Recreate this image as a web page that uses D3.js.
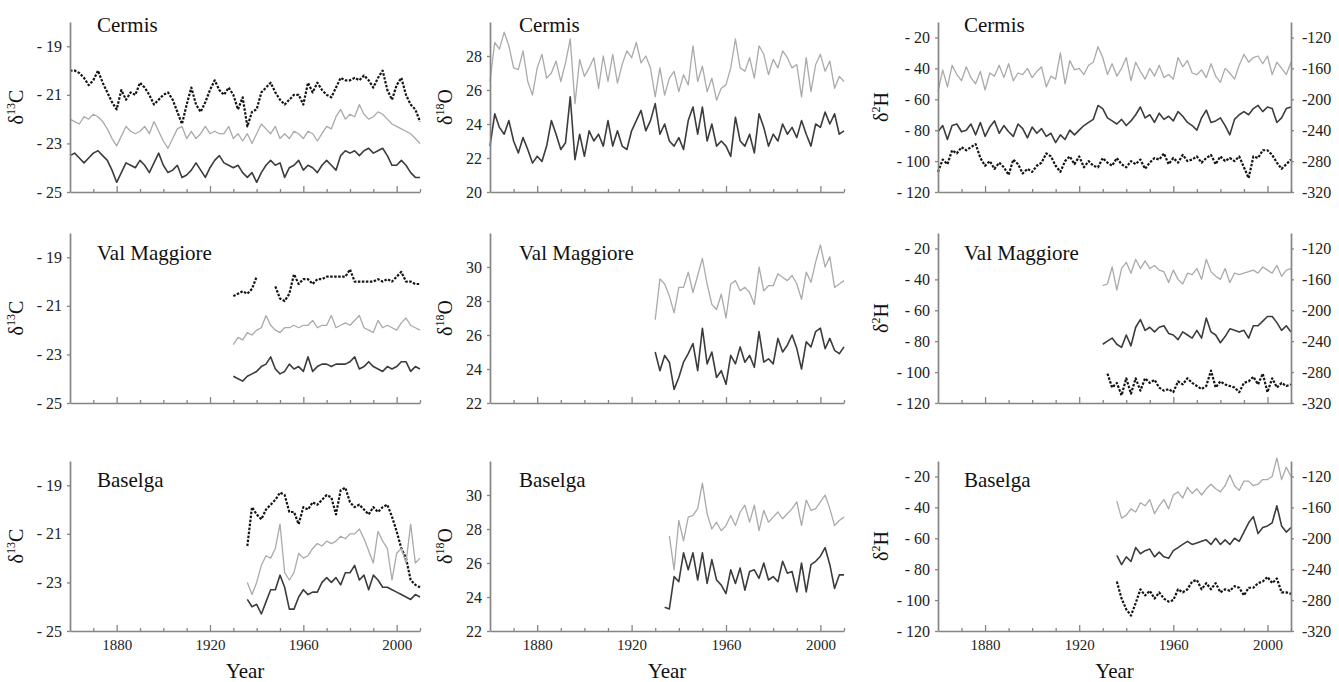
<!DOCTYPE html>
<html>
<head>
<meta charset="utf-8">
<script src="https://cdn.jsdelivr.net/npm/d3@7"></script>
<style>
  body { margin: 0; background: #fff; }
  svg { display: block; font-family: "Liberation Serif", "DejaVu Serif", serif; }
</style>
</head>
<body>
<svg id="chart" width="1339" height="682"></svg>
<script>
// every series is sampled every 2 years from its own start year
const yearStep = 2

// ---- Cermis (1860-2010) ----
const cermisC13Black = [-20.0,-20.0,-20.1,-20.3,-20.6,-20.4,-20.0,-20.5,-20.9,-21.3,
  -21.6,-20.8,-21.2,-20.9,-21.0,-20.5,-20.7,-21.0,-21.4,-21.2,
  -21.0,-20.9,-21.2,-21.7,-22.2,-21.4,-20.7,-21.4,-21.7,-21.3,
  -20.8,-20.4,-20.8,-21.0,-20.7,-21.0,-21.6,-21.1,-22.3,-21.7,
  -21.6,-20.9,-20.7,-20.5,-20.9,-21.2,-21.4,-21.2,-21.0,-21.0,
  -21.4,-20.5,-20.9,-20.5,-20.8,-21.0,-21.1,-20.7,-20.3,-20.4,
  -20.4,-20.3,-20.4,-20.2,-20.4,-20.7,-20.3,-20.0,-20.8,-21.2,
  -20.6,-20.3,-21.0,-21.4,-21.6,-22.1]
const cermisC13Gray = [-22.0,-22.1,-22.2,-21.9,-22.0,-21.8,-21.9,-22.1,-22.4,-22.8,
  -23.1,-22.7,-22.3,-22.5,-22.6,-22.5,-22.3,-22.6,-22.1,-22.5,
  -22.9,-23.2,-22.8,-22.4,-22.3,-22.8,-22.5,-22.8,-22.6,-22.3,
  -22.6,-22.5,-22.6,-22.6,-22.3,-22.8,-22.6,-22.9,-22.6,-23.0,
  -22.6,-22.2,-22.4,-22.6,-22.3,-22.8,-22.6,-22.8,-22.5,-22.6,
  -22.8,-22.5,-22.6,-22.9,-22.6,-22.3,-22.4,-21.9,-21.6,-22.0,
  -21.8,-21.9,-21.4,-21.8,-22.0,-21.9,-21.7,-21.8,-22.0,-22.2,
  -22.3,-22.4,-22.5,-22.6,-22.8,-23.0]
const cermisC13Dark = [-23.5,-23.4,-23.6,-23.8,-23.6,-23.4,-23.3,-23.5,-23.7,-24.1,
  -24.6,-24.2,-23.8,-23.9,-24.0,-23.7,-23.9,-24.2,-23.8,-23.4,
  -23.9,-24.2,-24.1,-23.9,-24.4,-24.3,-24.1,-23.8,-24.1,-24.4,
  -24.0,-23.7,-23.5,-23.8,-23.9,-24.0,-23.9,-24.2,-24.4,-24.2,
  -24.6,-24.2,-23.9,-23.7,-23.9,-23.8,-24.4,-24.0,-23.9,-23.7,
  -24.1,-23.9,-24.0,-24.2,-23.9,-23.7,-23.9,-24.1,-23.5,-23.3,
  -23.4,-23.3,-23.5,-23.3,-23.2,-23.4,-23.3,-23.2,-23.5,-23.9,
  -23.9,-23.7,-23.9,-24.2,-24.4,-24.4]

const cermisO18Gray = [26.5,28.8,28.4,29.4,28.6,27.3,27.2,28.3,26.5,25.7,
  27.3,28.1,26.7,27.0,27.7,26.5,27.6,29.0,25.2,27.8,
  26.8,27.3,27.9,26.1,28.0,26.5,28.1,26.4,27.5,28.3,
  27.9,28.8,27.6,28.0,27.3,25.6,27.3,25.7,26.7,27.1,
  25.9,26.9,26.3,28.6,26.5,27.4,25.9,26.7,25.4,26.1,
  26.3,27.3,29.0,27.3,27.1,27.9,26.7,28.6,28.1,26.9,
  27.8,27.3,28.3,27.9,27.3,27.5,25.6,27.9,25.9,27.5,
  28.1,27.1,27.7,26.1,26.8,26.5]
const cermisO18Dark = [22.7,24.6,23.8,23.4,24.2,23.0,22.3,23.2,22.5,21.7,
  22.1,21.8,22.7,24.2,23.4,22.5,22.9,25.6,21.9,23.4,
  22.1,23.6,23.0,23.4,22.7,24.2,22.7,23.6,22.7,22.5,
  23.6,24.2,24.8,23.6,24.2,25.2,23.4,24.0,23.0,22.7,
  23.2,22.5,24.2,25.0,23.4,25.0,23.0,24.0,22.7,23.0,
  22.7,22.1,24.4,23.0,22.7,23.4,22.3,24.6,23.8,22.7,
  23.4,23.0,24.0,23.4,23.8,23.2,24.2,23.4,22.7,24.0,
  23.8,24.7,24.0,24.6,23.4,23.6]

const cermisH2Gray = [-55,-41,-52,-38,-44,-48,-39,-46,-50,-42,
  -54,-43,-45,-38,-46,-37,-48,-43,-44,-40,
  -46,-42,-39,-52,-45,-47,-30,-50,-35,-41,
  -40,-44,-38,-36,-26,-33,-44,-37,-45,-40,
  -33,-48,-36,-42,-47,-40,-45,-38,-46,-44,
  -47,-33,-39,-35,-43,-44,-41,-46,-37,-45,
  -49,-40,-43,-47,-38,-31,-36,-33,-32,-37,
  -32,-44,-36,-40,-44,-36]
const cermisH2Dark = [-81,-77,-86,-77,-76,-81,-80,-76,-83,-75,
  -84,-78,-74,-82,-77,-81,-84,-76,-79,-85,
  -78,-82,-79,-84,-82,-88,-83,-86,-80,-83,
  -80,-77,-75,-73,-64,-66,-72,-74,-76,-73,
  -77,-74,-70,-65,-72,-70,-75,-69,-73,-71,
  -74,-68,-71,-75,-77,-80,-72,-67,-75,-74,
  -72,-77,-83,-73,-70,-68,-70,-66,-64,-68,
  -65,-66,-75,-72,-66,-65]
const cermisH2Black = [-107,-99,-102,-93,-95,-91,-93,-91,-89,-98,
  -103,-100,-105,-101,-104,-109,-99,-102,-108,-105,
  -107,-103,-101,-95,-97,-103,-107,-100,-97,-102,
  -97,-104,-100,-103,-104,-98,-101,-103,-98,-102,
  -104,-100,-102,-99,-105,-101,-98,-99,-95,-102,
  -98,-101,-96,-100,-99,-97,-101,-98,-96,-102,
  -97,-100,-98,-100,-97,-104,-111,-97,-98,-93,
  -93,-96,-101,-105,-102,-99]

// ---- Val Maggiore (1930-2010) ----
const valC13Black = [-20.6,-20.5,-20.4,-20.5,-20.3,-19.8,null,null,null,-20.2,
  -20.7,-20.8,-20.5,-19.7,-20.1,-19.9,-19.9,-20.1,-19.9,-19.9,
  -19.8,-19.8,-19.8,-19.8,-19.8,-19.5,-20.0,-20.0,-20.0,-20.0,
  -20.0,-19.9,-20.0,-19.9,-20.0,-19.8,-19.6,-20.0,-20.0,-20.1,
  -20.1]
const valC13Gray = [-22.6,-22.3,-22.4,-22.1,-22.2,-22.0,-21.9,-21.4,-21.8,-22.0,
  -22.1,-21.9,-21.9,-21.8,-21.9,-21.8,-21.8,-21.6,-21.9,-21.8,
  -21.8,-21.4,-21.9,-21.8,-21.7,-21.8,-21.6,-21.4,-21.9,-22.0,
  -22.1,-21.6,-21.9,-21.8,-21.9,-22.0,-21.7,-21.5,-21.8,-21.9,
  -22.0]
const valC13Dark = [-23.9,-24.0,-24.1,-23.9,-23.8,-23.7,-23.5,-23.4,-23.1,-23.6,
  -23.8,-23.7,-23.4,-23.6,-23.5,-23.7,-23.1,-23.7,-23.5,-23.4,
  -23.4,-23.5,-23.4,-23.4,-23.4,-23.3,-23.1,-23.6,-23.5,-23.3,
  -23.5,-23.6,-23.7,-23.5,-23.6,-23.5,-23.3,-23.3,-23.7,-23.5,
  -23.6]

const valO18Gray = [26.9,29.3,29.0,28.3,27.3,28.8,28.8,29.7,28.5,29.5,
  30.5,29.0,27.8,27.5,28.4,27.0,29.0,29.2,28.6,28.8,
  28.5,27.8,30.0,28.6,28.9,28.9,29.6,29.4,29.2,29.5,
  29.0,28.1,29.7,29.1,30.3,31.3,30.0,30.6,28.8,29.0,
  29.2]
const valO18Dark = [25.0,23.9,24.8,24.4,22.8,23.5,24.4,24.9,25.5,23.9,
  26.4,24.3,25.0,23.5,23.9,23.1,24.8,24.3,25.3,24.4,
  24.8,24.1,26.2,24.4,24.6,24.3,25.8,25.0,25.4,26.0,
  25.2,24.0,25.6,25.3,26.2,26.4,25.2,25.8,25.1,24.9,
  25.3]

const valH2Gray = [-44,-43,-32,-47,-33,-29,-36,-27,-33,-28,
  -33,-31,-34,-35,-42,-34,-40,-43,-36,-37,
  -33,-40,-27,-35,-38,-40,-33,-42,-36,-37,
  -36,-35,-34,-36,-32,-34,-36,-31,-38,-34,
  -33]
const valH2Dark = [-82,-80,-78,-82,-84,-76,-83,-71,-66,-73,
  -71,-74,-71,-70,-75,-76,-79,-74,-76,-78,
  -73,-78,-65,-74,-76,-81,-77,-72,-73,-74,
  -73,-78,-70,-70,-67,-64,-64,-68,-73,-70,
  -74]
// starts 1932
const valH2Black = [-101,-110,-107,-115,-104,-114,-104,-112,-104,-107,
  -105,-110,-112,-111,-113,-106,-108,-104,-107,-109,
  -111,-109,-99,-110,-106,-108,-109,-110,-113,-107,
  -106,-103,-108,-101,-113,-104,-110,-107,-109,-108]

// ---- Baselga (1936-2010, dark d18O from 1934) ----
const basC13Black = [-21.5,-19.9,-20.2,-20.4,-20.0,-19.8,-19.6,-19.3,-19.4,-20.1,
  -20.1,-20.6,-19.9,-20.0,-19.7,-19.8,-19.6,-19.4,-19.5,-20.2,
  -19.2,-19.1,-19.7,-19.9,-19.8,-20.0,-20.2,-19.9,-20.1,-19.9,
  -19.8,-20.3,-20.9,-21.6,-22.0,-22.9,-23.1,-23.2]
const basC13Gray = [-23.0,-23.5,-23.0,-22.3,-21.9,-22.0,-21.6,-20.6,-22.6,-22.9,
  -22.6,-21.8,-22.0,-21.9,-21.6,-21.4,-21.5,-21.3,-21.4,-21.3,
  -21.1,-21.2,-21.0,-21.0,-20.8,-21.2,-21.7,-22.2,-20.9,-21.3,
  -21.6,-22.9,-21.8,-21.6,-22.2,-20.6,-22.2,-22.0]
const basC13Dark = [-23.7,-24.0,-23.9,-24.3,-23.8,-23.3,-23.3,-22.7,-23.2,-24.1,
  -24.1,-23.6,-23.3,-23.5,-23.4,-23.4,-23.0,-22.8,-23.0,-22.8,
  -23.1,-22.6,-22.6,-22.3,-22.9,-22.7,-23.3,-22.7,-22.9,-23.2,
  -23.2,-23.3,-23.4,-23.5,-23.6,-23.7,-23.5,-23.6]

const basO18Gray = [27.6,25.6,28.5,27.3,28.7,28.8,29.2,30.7,28.9,28.0,
  28.4,27.9,28.2,28.8,28.2,29.0,29.4,28.4,29.4,27.9,
  29.1,28.4,28.7,29.0,28.6,28.9,29.2,29.6,28.2,29.7,
  29.1,29.2,29.6,30.0,29.2,28.2,28.5,28.7]
const basO18Dark = [23.4,23.3,25.2,24.9,26.6,25.6,26.6,25.0,26.6,24.8,
  26.2,25.0,24.7,24.2,25.6,24.8,25.7,24.4,25.5,25.6,
  25.1,26.0,25.0,25.2,24.9,26.1,25.4,25.5,24.3,26.0,
  24.3,25.9,26.1,26.4,26.9,25.9,24.5,25.3,25.3]

const basH2Gray = [-36,-47,-45,-41,-43,-37,-39,-35,-44,-39,
  -35,-41,-32,-30,-34,-27,-31,-28,-32,-28,
  -25,-28,-30,-26,-19,-26,-29,-23,-23,-26,
  -25,-22,-22,-20,-8,-22,-14,-20]
const basH2Dark = [-71,-77,-72,-75,-66,-70,-68,-67,-72,-69,
  -72,-73,-68,-66,-64,-62,-64,-63,-62,-61,
  -64,-60,-64,-61,-64,-60,-62,-56,-50,-46,
  -57,-53,-52,-50,-39,-52,-56,-53]
const basH2Black = [-88,-99,-106,-110,-102,-93,-97,-94,-99,-95,
  -99,-101,-100,-93,-95,-93,-88,-87,-93,-89,
  -93,-89,-95,-93,-94,-91,-92,-97,-92,-92,
  -89,-88,-85,-89,-86,-95,-95,-96]

// ---- axes ----
const siteNames = ['Cermis', 'Val Maggiore', 'Baselga']
const yearTicksMajor = [1880, 1920, 1960, 2000]
const yearTicksMinor = [1870, 1890, 1900, 1910, 1930, 1940, 1950, 1970, 1980, 1990, 2010]
const c13Ticks = [-25, -23, -21, -19]
const o18TicksTop = [20, 22, 24, 26, 28]
const o18Ticks = [22, 24, 26, 28, 30]
const h2Ticks = [-120, -100, -80, -60, -40, -20]
const h2RightTicks = [-320, -280, -240, -200, -160, -120]

// panel table built from the arrays above
const panels = [
  {row: 0, col: 0, series: [[cermisC13Black, 1860, 'black'], [cermisC13Gray, 1860, 'gray'], [cermisC13Dark, 1860, 'dark']]},
  {row: 0, col: 1, series: [[cermisO18Gray, 1860, 'gray'], [cermisO18Dark, 1860, 'dark']]},
  {row: 0, col: 2, series: [[cermisH2Gray, 1860, 'gray'], [cermisH2Dark, 1860, 'dark'], [cermisH2Black, 1860, 'black']]},
  {row: 1, col: 0, series: [[valC13Black, 1930, 'black'], [valC13Gray, 1930, 'gray'], [valC13Dark, 1930, 'dark']]},
  {row: 1, col: 1, series: [[valO18Gray, 1930, 'gray'], [valO18Dark, 1930, 'dark']]},
  {row: 1, col: 2, series: [[valH2Gray, 1930, 'gray'], [valH2Dark, 1930, 'dark'], [valH2Black, 1932, 'black']]},
  {row: 2, col: 0, series: [[basC13Black, 1936, 'black'], [basC13Gray, 1936, 'gray'], [basC13Dark, 1936, 'dark']]},
  {row: 2, col: 1, series: [[basO18Gray, 1936, 'gray'], [basO18Dark, 1934, 'dark']]},
  {row: 2, col: 2, series: [[basH2Gray, 1936, 'gray'], [basH2Dark, 1936, 'dark'], [basH2Black, 1936, 'black']]}
]

// layout
const cols = [
  {x0: 70,  x1: 420,  labelX: 23,  titleX: 97},
  {x0: 490, x1: 844,  labelX: 452, titleX: 519},
  {x0: 938, x1: 1291, labelX: 888, titleX: 964}
]
const rows = [
  {top: 22,  bottom: 192, titleY: 32},
  {top: 233, bottom: 403, titleY: 260},
  {top: 461, bottom: 631, titleY: 487}
]
const styles = {
  black: {stroke: '#151515', width: 2.2, dash: '2.5,1.5'},
  dark:  {stroke: '#3c3c3c', width: 1.6, dash: null},
  gray:  {stroke: '#aaaaaa', width: 1.3, dash: null}
}
const axisColor = '#858585'

const svg = d3.select('#chart')

function yDomain(row, col){
  if (col == 0) return [-25, -18]
  if (col == 1) return row == 0 ? [20, 30] : [22, 32]
  return [-120, -10]
}

function yTicks(row, col){
  if (col == 0) return c13Ticks
  if (col == 1) return row == 0 ? o18TicksTop : o18Ticks
  return h2Ticks
}

function fmtDash(d){ return d < 0 ? '- ' + Math.abs(d) : '' + d }

function styleAxis(g, size){
  g.attr('font-family', null).attr('font-size', size)
  g.select('.domain').attr('stroke', axisColor).attr('stroke-width', 1.7)
  g.selectAll('.tick line').attr('stroke', axisColor).attr('stroke-width', 1.3)
  g.selectAll('.tick text').attr('fill', '#222')
}

panels.forEach(function(p){
  var c = cols[p.col], r = rows[p.row]
  var x = d3.scaleLinear().domain([1860, 2010]).range([c.x0, c.x1])
  var y = d3.scaleLinear().domain(yDomain(p.row, p.col)).range([r.bottom, r.top])

  var g = svg.append('g')

  // data lines
  var line = d3.line()
    .defined(function(d){ return d.v != null })
    .x(function(d){ return x(d.yr) })
    .y(function(d){ return y(d.v) })

  p.series.forEach(function(s){
    var pts = s[0].map(function(v, i){ return {yr: s[1] + i * yearStep, v: v} })
    var st = styles[s[2]]
    g.append('path')
      .datum(pts)
      .attr('fill', 'none')
      .attr('stroke', st.stroke)
      .attr('stroke-width', st.width)
      .attr('stroke-dasharray', st.dash)
      .attr('stroke-linejoin', 'round')
      .attr('d', line)
  })

  // y axis
  var yAxis = d3.axisLeft(y).tickValues(yTicks(p.row, p.col)).tickSize(3).tickPadding(5).tickSizeOuter(0)
    .tickFormat(p.col == 1 ? d3.format('d') : fmtDash)
  g.append('g').attr('transform', 'translate(' + c.x0 + ',0)').call(yAxis).call(styleAxis, 16)

  // right-hand axis for deuterium
  if (p.col == 2){
    var y2 = d3.scaleLinear().domain([-320, -100]).range([r.bottom, r.top])
    var yAxis2 = d3.axisRight(y2).tickValues(h2RightTicks).tickSize(3).tickPadding(8).tickSizeOuter(0)
      .tickFormat(function(d){ return '-' + Math.abs(d) })
    g.append('g').attr('transform', 'translate(' + c.x1 + ',0)').call(yAxis2).call(styleAxis, 16)
  }

  // x axis: minor and major ticks pointing up
  var xMinor = d3.axisBottom(x).tickValues(yearTicksMinor).tickSize(-3).tickSizeOuter(0).tickFormat('')
  g.append('g').attr('transform', 'translate(0,' + r.bottom + ')').call(xMinor).call(styleAxis, 15)
  var xMajor = d3.axisBottom(x).tickValues(yearTicksMajor).tickSize(-6).tickSizeOuter(0).tickPadding(8)
    .tickFormat(p.row == 2 ? d3.format('d') : '')
  var xg = g.append('g').attr('transform', 'translate(0,' + r.bottom + ')').call(xMajor).call(styleAxis, 15)
  xg.select('.domain').remove()

  // site title
  g.append('text')
    .attr('x', c.titleX).attr('y', r.titleY)
    .attr('font-size', 21).attr('fill', '#111')
    .text(siteNames[p.row])

  // y label with superscript
  var lbl = p.col == 0 ? ['13', 'C'] : p.col == 1 ? ['18', 'O'] : ['2', 'H']
  var t = g.append('text')
    .attr('transform', 'translate(' + c.labelX + ',' + ((r.top + r.bottom) / 2) + ') rotate(-90)')
    .attr('text-anchor', 'middle').attr('font-size', 20).attr('fill', '#111')
  t.append('tspan').text('δ')
  t.append('tspan').attr('font-size', 12).attr('dy', -8).text(lbl[0])
  t.append('tspan').attr('dy', 8).text(lbl[1])

  if (p.row == 2){
    g.append('text')
      .attr('x', (c.x0 + c.x1) / 2).attr('y', 678)
      .attr('text-anchor', 'middle').attr('font-size', 21).attr('fill', '#111')
      .text('Year')
  }
})
</script>
</body>
</html>
